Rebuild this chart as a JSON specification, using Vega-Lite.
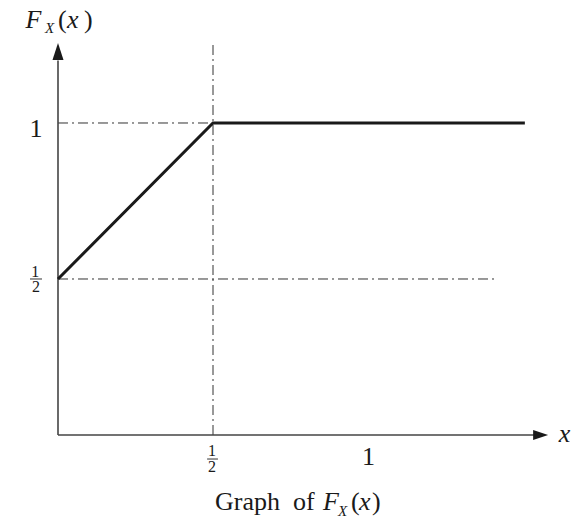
{
  "$schema": "https://vega.github.io/schema/vega-lite/v6.json",
  "autosize": {"type": "none"},
  "width": 496,
  "height": 435,
  "padding": {"left": 58, "top": 0, "right": 29, "bottom": 91},
  "background": "white",
  "config": {"view": {"stroke": null}, "text": {"font": "Liberation Serif", "color": "#1a1a1a"}},
  "encoding": {
    "x": {"field": "x", "type": "quantitative", "scale": {"domain": [0, 1.6], "nice": false, "zero": false}, "axis": null},
    "y": {"field": "y", "type": "quantitative", "scale": {"domain": [0, 1.3942], "nice": false, "zero": false}, "axis": null}
  },
  "layer": [
    {
      "data": {"values": [
        {"x": 0, "y": 1, "x2": 0.5, "y2": 1},
        {"x": 0, "y": 0.5, "x2": 1.416, "y2": 0.5},
        {"x": 0.5, "y": 0, "x2": 0.5, "y2": 1.25}
      ]},
      "mark": {"type": "rule", "strokeDash": [10, 4, 2, 4], "strokeWidth": 1, "color": "#333333"},
      "encoding": {"x2": {"field": "x2"}, "y2": {"field": "y2"}}
    },
    {
      "data": {"values": [
        {"x": 0, "y": 0, "x2": 1.556, "y2": 0},
        {"x": 0, "y": 0, "x2": 0, "y2": 1.2}
      ]},
      "mark": {"type": "rule", "strokeWidth": 1.6, "color": "#444444"},
      "encoding": {"x2": {"field": "x2"}, "y2": {"field": "y2"}}
    },
    {
      "data": {"values": [{"x": 1.581, "y": 0}]},
      "mark": {"type": "point", "shape": "M0,0L-2,-0.667L-2,0.667Z", "size": 225, "filled": true, "color": "#1a1a1a", "opacity": 1}
    },
    {
      "data": {"values": [{"x": 0, "y": 1.256}]},
      "mark": {"type": "point", "shape": "M0,0L-0.65,2L0.65,2Z", "size": 289, "filled": true, "color": "#1a1a1a", "opacity": 1}
    },
    {
      "data": {"values": [
        {"x": 0, "y": 0.5},
        {"x": 0.5, "y": 1},
        {"x": 1.506, "y": 1}
      ]},
      "mark": {"type": "line", "strokeWidth": 3, "color": "#1a1a1a", "strokeJoin": "miter"}
    },
    {
      "data": {"values": [
        {"x": -0.0903, "y": 0.5, "x2": -0.0516, "y2": 0.5},
        {"x": 0.481, "y": -0.077, "x2": 0.516, "y2": -0.077}
      ]},
      "mark": {"type": "rule", "strokeWidth": 1, "color": "#333333"},
      "encoding": {"x2": {"field": "x2"}, "y2": {"field": "y2"}}
    },
    {
      "data": {"values": [
        {"x": -0.071, "y": 0.981, "text": "1"},
        {"x": 1.0016, "y": -0.072, "text": "1"}
      ]},
      "mark": {"type": "text", "fontSize": 26, "align": "center", "baseline": "middle"},
      "encoding": {"text": {"field": "text"}}
    },
    {
      "data": {"values": [
        {"x": -0.073, "y": 0.524, "text": "1"},
        {"x": -0.071, "y": 0.473, "text": "2"},
        {"x": 0.497, "y": -0.0513, "text": "1"},
        {"x": 0.497, "y": -0.104, "text": "2"}
      ]},
      "mark": {"type": "text", "fontSize": 16, "align": "center", "baseline": "middle"},
      "encoding": {"text": {"field": "text"}}
    },
    {
      "data": {"values": [
        {"x": 1.634, "y": 0.003, "text": "x"}
      ]},
      "mark": {"type": "text", "fontSize": 26, "fontStyle": "italic", "align": "center", "baseline": "middle"},
      "encoding": {"text": {"field": "text"}}
    },
    {
      "data": {"values": [
        {"x": -0.105, "y": 1.3045, "text": "F"},
        {"x": 0.029, "y": 1.3045, "text": "x"},
        {"x": 0.855, "y": -0.2404, "text": "F"},
        {"x": 0.971, "y": -0.2404, "text": "x"}
      ]},
      "mark": {"type": "text", "fontSize": 26, "fontStyle": "italic", "align": "left", "baseline": "alphabetic"},
      "encoding": {"text": {"field": "text"}}
    },
    {
      "data": {"values": [
        {"x": 0.0, "y": 1.3045, "text": "("},
        {"x": 0.0839, "y": 1.3045, "text": ")"},
        {"x": 0.5065, "y": -0.2404, "text": "Graph"},
        {"x": 0.758, "y": -0.2404, "text": "of"},
        {"x": 0.945, "y": -0.2404, "text": "("},
        {"x": 1.013, "y": -0.2404, "text": ")"}
      ]},
      "mark": {"type": "text", "fontSize": 26, "align": "left", "baseline": "alphabetic"},
      "encoding": {"text": {"field": "text"}}
    },
    {
      "data": {"values": [
        {"x": -0.0419, "y": 1.288, "text": "X"},
        {"x": 0.903, "y": -0.2596, "text": "X"}
      ]},
      "mark": {"type": "text", "fontSize": 15, "fontStyle": "italic", "align": "left", "baseline": "alphabetic"},
      "encoding": {"text": {"field": "text"}}
    }
  ]
}
